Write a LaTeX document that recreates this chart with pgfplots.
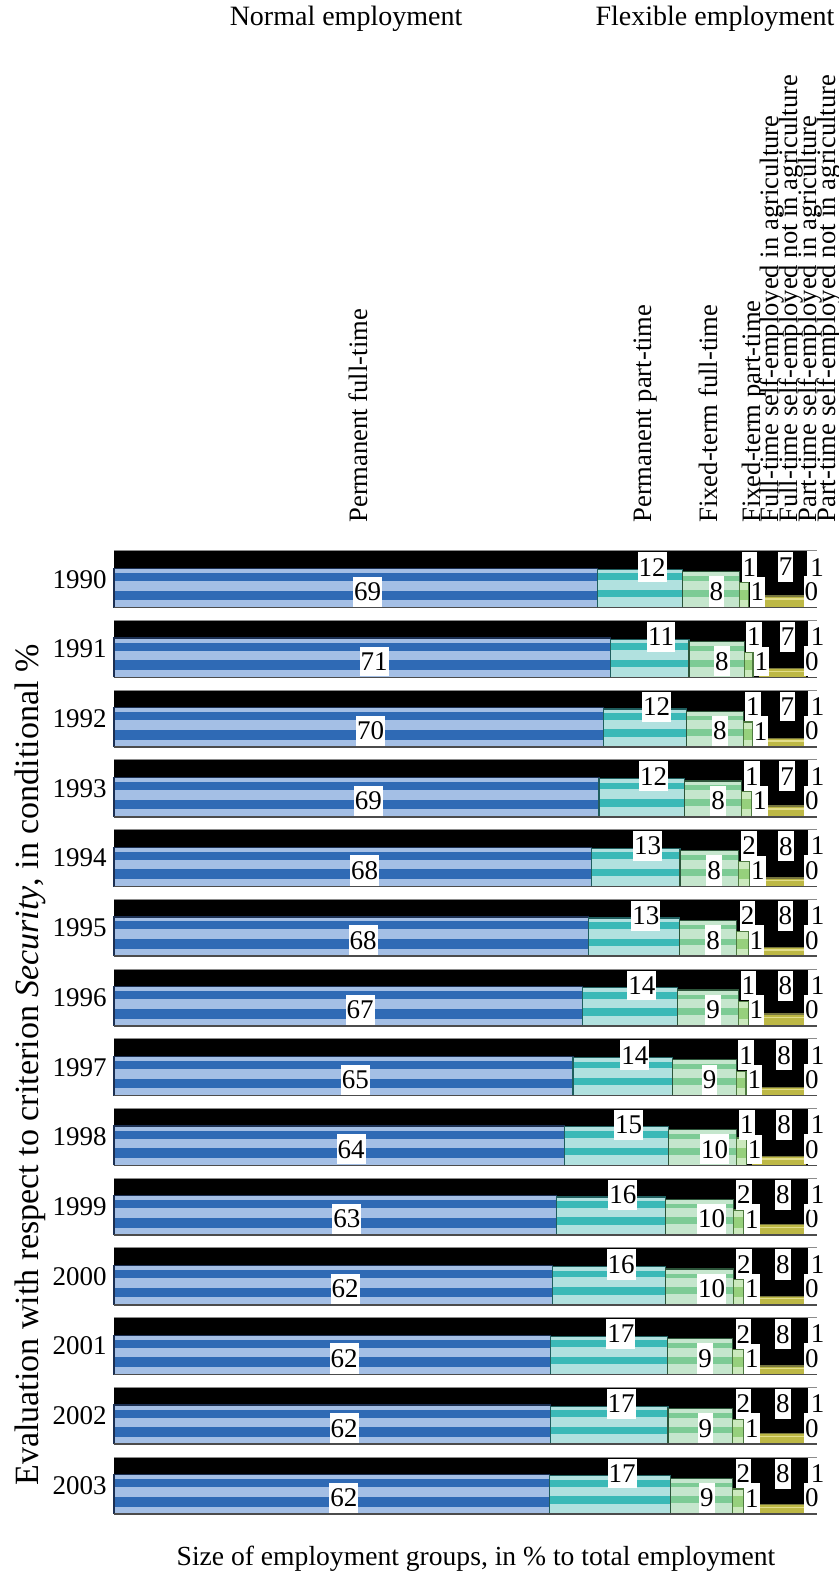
\documentclass[border=0pt]{standalone}
\usepackage{fontspec}
\setmainfont{Liberation Serif}
\usepackage{pgfplots}
\usepackage{pgfplotstable}
\pgfplotsset{compat=1.18}

\definecolor{pftL}{HTML}{A4BFE5}
\definecolor{pftD}{HTML}{2F6AB5}
\definecolor{pftE}{HTML}{1B2F52}
\definecolor{pptL}{HTML}{B1E1DF}
\definecolor{pptD}{HTML}{3BB9B7}
\definecolor{pptE}{HTML}{1F5E5E}
\definecolor{ftfL}{HTML}{C5E6CD}
\definecolor{ftfD}{HTML}{7DCB95}
\definecolor{ftfE}{HTML}{2D553A}
\definecolor{ftpL}{HTML}{CBE9BD}
\definecolor{ftpD}{HTML}{96D07C}
\definecolor{ftpE}{HTML}{4E7A40}
\definecolor{ylL}{HTML}{E2DD8A}
\definecolor{ylD}{HTML}{BDB845}
\definecolor{ylE}{HTML}{77763F}

\tikzset{lab/.style={fill=white, inner xsep=0.5pt, inner ysep=3pt, xshift=-1.5pt, font=\fontsize{13.5}{16}\selectfont},
  vlab/.style={rotate=90, anchor=mid west, inner sep=0pt, font=\fontsize{13.3}{15}\selectfont}}

\pgfplotstableread{
year w1 w2 w3 w4 w5 w6 w7 w8 h1 h2 h3 h4 h6 l1 l2 l3 l4 l5 l6 l7 l8
1990 68.8 12.1 8.1 1.3 1.0 7.0 0.3 1.4 69 67 63 44 22 69 12 8 1 1 7 0 1
1991 70.6 11.2 7.9 1.2 0.9 6.6 0.3 1.3 69 67 63 43 16 71 11 8 1 1 7 0 1
1992 69.6 11.8 8.1 1.3 0.9 6.7 0.3 1.3 69 67 63 44 16 70 12 8 1 1 7 0 1
1993 69.0 12.1 8.2 1.4 0.9 6.8 0.3 1.3 69 67 63 44 20 69 12 8 1 1 7 0 1
1994 67.9 12.6 8.3 1.6 0.9 7.1 0.3 1.3 69 67 63 44 16 68 13 8 2 1 8 0 1
1995 67.5 12.9 8.2 1.6 0.9 7.3 0.3 1.3 69 67 63 44 16 68 13 8 2 1 8 0 1
1996 66.6 13.6 8.6 1.4 0.9 7.3 0.3 1.3 69 67 63 43 22 67 14 9 1 1 8 0 1
1997 65.3 14.2 9.0 1.4 0.9 7.6 0.3 1.3 69 67 63 43 16 65 14 9 1 1 8 0 1
1998 64.1 14.8 9.7 1.4 0.8 7.6 0.3 1.3 69 68 63 48 17 64 15 10 1 1 8 0 1
1999 62.9 15.6 9.6 1.5 0.8 8.0 0.3 1.3 69 67 63 44 20 63 16 10 2 1 8 0 1
2000 62.4 16.1 9.6 1.5 0.8 8.0 0.3 1.3 69 67 63 44 16 62 16 10 2 1 8 0 1
2001 62.1 16.6 9.3 1.6 0.8 8.0 0.3 1.3 69 67 63 44 16 62 17 9 2 1 8 0 1
2002 62.1 16.7 9.2 1.6 0.8 8.0 0.3 1.3 69 67 63 44 20 62 17 9 2 1 8 0 1
2003 62.0 17.2 8.8 1.6 0.8 8.0 0.3 1.3 69 67 63 44 17 62 17 9 2 1 8 0 1
}\datatable

\newcommand\myrect[5]{%
  \pgfmathsetmacro\ya{\pbase+#4}%
  \pgfmathsetmacro\yb{\pbase+#5}%
  \edef\doit{\noexpand\addplot[fill=#1,draw=none,mark=none] coordinates {(#2,\ya) (#3,\ya) (#3,\yb) (#2,\yb)};}%
  \doit}
\newcommand\myoutl[4]{%
  \pgfmathsetmacro\yb{\pbase+#4}%
  \edef\doit{\noexpand\addplot[draw=#1,line width=0.6pt,mark=none] coordinates {(#2,\pbase) (#2,\yb) (#3,\yb) (#3,\pbase)};}%
  \doit}
\newcommand\myline[3]{%
  \pgfmathsetmacro\yb{\pbase+#2}%
  \edef\doit{\noexpand\addplot[draw=#1,line width=#3,mark=none] coordinates {(0,\yb) (100,\yb)};}%
  \doit}
\newcommand\labU[2]{%
  \pgfmathsetmacro\yb{\pbase+98}%
  \edef\doit{\noexpand\node[lab,anchor=north west] at (axis cs:#1,\yb) {#2};}%
  \doit}
\newcommand\labL[2]{%
  \pgfmathsetmacro\yb{\pbase+1}%
  \edef\doit{\noexpand\node[lab,anchor=south west] at (axis cs:#1,\yb) {#2};}%
  \doit}
\newcommand\getv[2]{\pgfplotstablegetelem{\r}{#2}\of\datatable\let#1\pgfplotsretval}

\begin{document}
\begin{tikzpicture}[font=\fontsize{13.5}{16}\selectfont]
\begin{axis}[
  at={(0,0)}, anchor=south west,
  width=351.5pt, height=481.65pt, scale only axis,
  xmin=0, xmax=100, ymin=0, ymax=1691.2,
  axis line style={draw=none},
  xtick=\empty,
  ytick={50,172.4,294.8,417.2,539.6,662,784.4,906.8,1029.2,1151.6,1274,1396.4,1518.8,1641.2},
  yticklabels={2003,2002,2001,2000,1999,1998,1997,1996,1995,1994,1993,1992,1991,1990},
  major tick length=0pt,
  yticklabel style={font=\fontsize{13.5}{16}\selectfont, inner xsep=3.5pt},
  clip=false,
]
\pgfplotsforeachungrouped \r in {0,...,13}{%
  \pgfmathsetmacro\pbase{(13-\r)*122.4}%
  \getv\wA{w1}\getv\wB{w2}\getv\wC{w3}\getv\wD{w4}\getv\wE{w5}\getv\wF{w6}\getv\wG{w7}%
  \getv\hA{h1}\getv\hB{h2}\getv\hC{h3}\getv\hD{h4}\getv\hF{h6}%
  \getv\lA{l1}\getv\lB{l2}\getv\lC{l3}\getv\lD{l4}\getv\lE{l5}\getv\lF{l6}\getv\lG{l7}\getv\lH{l8}%
  \pgfmathsetmacro\pA{\wA}%
  \pgfmathsetmacro\pB{\pA+\wB}%
  \pgfmathsetmacro\pC{\pB+\wC}%
  \pgfmathsetmacro\pD{\pC+\wD}%
  \pgfmathsetmacro\pE{\pD+\wE}%
  \pgfmathsetmacro\pF{\pE+\wF}%
  \pgfmathsetmacro\pG{\pF+\wG}%
  % black background
  \myrect{black}{0}{\pG}{0}{100}%
  % permanent full-time
  \myrect{pftL}{0}{\pA}{0}{13}\myrect{pftD}{0}{\pA}{13}{30}\myrect{pftL}{0}{\pA}{30}{47}%
  \myrect{pftD}{0}{\pA}{47}{61}\myrect{pftL}{0}{\pA}{61}{\hA}%
  % permanent part-time
  \myrect{pptL}{\pA}{\pB}{0}{18}\myrect{pptD}{\pA}{\pB}{18}{31}\myrect{pptL}{\pA}{\pB}{31}{48}%
  \myrect{pptD}{\pA}{\pB}{48}{60}\myrect{pptL}{\pA}{\pB}{60}{\hB}%
  % fixed-term full-time
  \myrect{ftfL}{\pB}{\pC}{0}{19}\myrect{ftfD}{\pB}{\pC}{19}{31}\myrect{ftfL}{\pB}{\pC}{31}{47}%
  \myrect{ftfD}{\pB}{\pC}{47}{55}\myrect{ftfL}{\pB}{\pC}{55}{\hC}%
  % fixed-term part-time
  \myrect{ftpL}{\pC}{\pD}{0}{13}\myrect{ftpD}{\pC}{\pD}{13}{31}\myrect{ftpL}{\pC}{\pD}{31}{\hD}%
  % full-time self-employed not in agriculture
  \myrect{ylD}{\pE}{\pF}{0}{0.6*\hF}\myrect{ylL}{\pE}{\pF}{0.6*\hF}{0.74*\hF}%
  \myrect{ylD}{\pE}{\pF}{0.74*\hF}{0.88*\hF}\myrect{ylE}{\pE}{\pF}{0.88*\hF}{\hF}%
  % outlines
  \myoutl{pftE}{0}{\pA}{\hA}\myoutl{pptE}{\pA}{\pB}{\hB}\myoutl{ftfE}{\pB}{\pC}{\hC}\myoutl{ftpE}{\pC}{\pD}{\hD}%
  % panel lines
  \myline{black!45}{100}{0.5pt}\myline{black!70}{0}{0.8pt}%
  % labels
  \pgfmathsetmacro\mA{\pA/2}%
  \pgfmathsetmacro\mB{(\pA+\pB)/2}%
  \pgfmathsetmacro\mC{(\pB+\pC)/2}%
  \pgfmathsetmacro\mD{(\pC+\pD)/2}%
  \pgfmathsetmacro\mE{(\pD+\pE)/2}%
  \pgfmathsetmacro\mF{(\pE+\pF)/2}%
  \pgfmathsetmacro\mG{(\pF+\pG)/2}%
  \pgfmathsetmacro\mH{(\pG+100)/2}%
  \labL{\mA}{\lA}\labU{\mB}{\lB}\labL{\mC}{\lC}\labU{\mD}{\lD}%
  \labL{\mE}{\lE}\labU{\mF}{\lF}\labL{\mG}{\lG}\labU{\mH}{\lH}%
}
\end{axis}
\node[anchor=base,font=\fontsize{14}{16}\selectfont] at (116pt,744pt) {Normal employment};
\node[anchor=base east,font=\fontsize{14}{16}\selectfont] at (363.7pt,744pt) {Flexible employment};
\node[vlab] at (124.5pt,495.5pt) {Permanent full-time};
\node[vlab] at (266.5pt,495.5pt) {Permanent part-time};
\node[vlab] at (299.5pt,495.5pt) {Fixed-term full-time};
\node[vlab] at (321pt,495.5pt) {Fixed-term part-time};
\node[vlab] at (330pt,495.5pt) {Full-time self-employed in agriculture};
\node[vlab] at (339.5pt,495.5pt) {Full-time self-employed not in agriculture};
\node[vlab] at (349pt,495.5pt) {Part-time self-employed in agriculture};
\node[vlab] at (358.5pt,495.5pt) {Part-time self-employed not in agriculture};
\node[rotate=90,anchor=center,font=\fontsize{17}{19}\selectfont] at (-42pt,224.5pt) {Evaluation with respect to criterion \textit{Security}, in conditional \%};
\node[anchor=base,font=\fontsize{13.8}{16}\selectfont] at (181pt,-26pt) {Size of employment groups, in \% to total employment};
\pgfresetboundingbox
\path[use as bounding box] (-57pt,-29.5pt) rectangle (362.5pt,757pt);
\end{tikzpicture}
\end{document}
